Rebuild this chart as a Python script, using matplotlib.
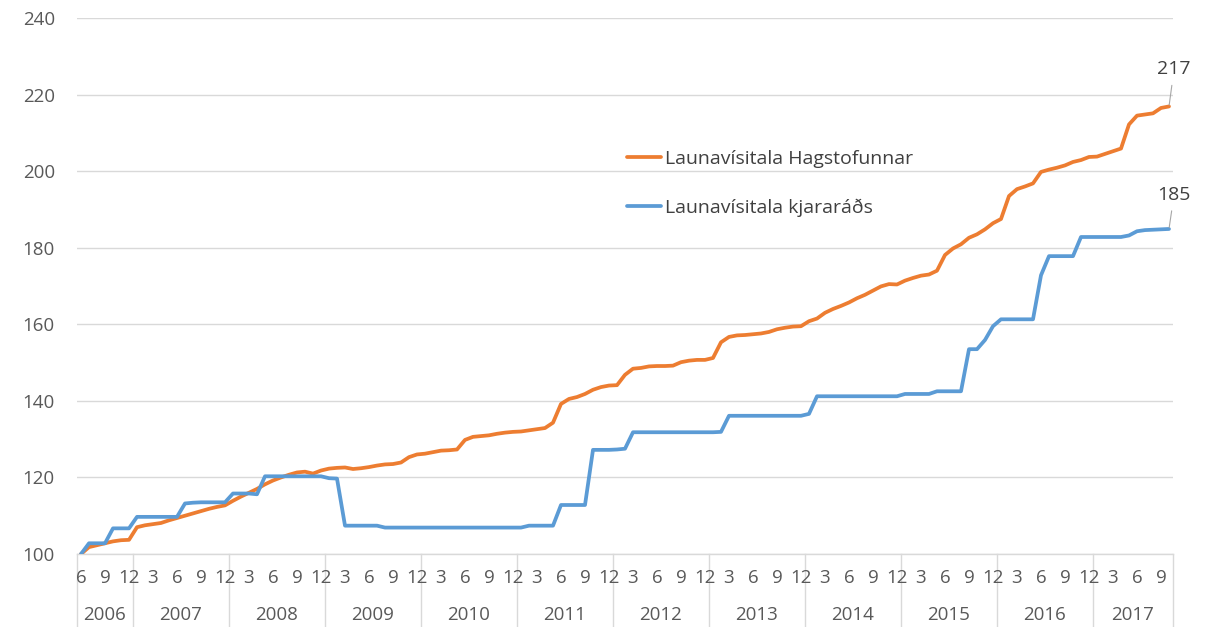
import matplotlib
matplotlib.use("Agg")
import matplotlib.pyplot as plt
import matplotlib.transforms as mtransforms
import numpy as np

plt.rcParams['font.family'] = ['Open Sans', 'DejaVu Sans']

# ---- Data: monthly, June 2006 .. October 2017 ----
start_year, start_month = 2006, 6
n_months = 137

hagstofa = [
    # 2006 (Jun-Dec)
    100.0, 101.8, 102.3, 102.8, 103.3, 103.6, 103.7,
    # 2007
    107.0, 107.5, 107.8, 108.1, 108.8, 109.4, 110.0, 110.6, 111.2, 111.8, 112.3, 112.7,
    # 2008
    113.9, 115.0, 116.0, 117.0, 118.2, 119.2, 120.0, 120.7, 121.3, 121.5, 121.0, 121.8,
    # 2009
    122.3, 122.5, 122.6, 122.2, 122.4, 122.7, 123.1, 123.4, 123.5, 123.9, 125.3, 126.0,
    # 2010
    126.2, 126.6, 127.0, 127.1, 127.3, 129.8, 130.6, 130.8, 131.0, 131.4, 131.7, 131.9,
    # 2011
    132.0, 132.3, 132.6, 132.9, 134.3, 139.2, 140.5, 141.0, 141.8, 142.9, 143.6, 144.0,
    # 2012
    144.1, 146.8, 148.4, 148.6, 149.0, 149.1, 149.1, 149.2, 150.1, 150.5, 150.7, 150.7,
    # 2013
    151.2, 155.3, 156.7, 157.1, 157.2, 157.4, 157.6, 158.0, 158.7, 159.1, 159.4, 159.5,
    # 2014
    160.8, 161.5, 163.0, 164.0, 164.8, 165.7, 166.8, 167.7, 168.8, 169.9, 170.5, 170.4,
    # 2015
    171.4, 172.1, 172.7, 173.0, 174.0, 178.1, 179.8, 180.9, 182.6, 183.5, 184.8, 186.4,
    # 2016
    187.5, 193.5, 195.3, 196.0, 196.8, 199.8, 200.4, 200.9, 201.5, 202.4, 202.9, 203.7,
    # 2017 (Jan-Oct)
    203.8, 204.5, 205.2, 205.9, 212.2, 214.5, 214.8, 215.1, 216.5, 216.9,
]

kjararad = [
    # 2006
    100.0, 102.8, 102.8, 102.8, 106.7, 106.7, 106.7,
    # 2007
    109.7, 109.7, 109.7, 109.7, 109.7, 109.7, 113.2, 113.4, 113.5, 113.5, 113.5, 113.5,
    # 2008
    115.8, 115.8, 115.8, 115.6, 120.3, 120.3, 120.3, 120.3, 120.3, 120.3, 120.3, 120.3,
    # 2009
    119.8, 119.7, 107.4, 107.4, 107.4, 107.4, 107.4, 106.9, 106.9, 106.9, 106.9, 106.9,
    # 2010
    106.9, 106.9, 106.9, 106.9, 106.9, 106.9, 106.9, 106.9, 106.9, 106.9, 106.9, 106.9,
    # 2011
    106.9, 107.4, 107.4, 107.4, 107.4, 112.8, 112.8, 112.8, 112.8, 127.2, 127.2, 127.2,
    # 2012
    127.3, 127.5, 131.8, 131.8, 131.8, 131.8, 131.8, 131.8, 131.8, 131.8, 131.8, 131.8,
    # 2013
    131.8, 131.9, 136.1, 136.1, 136.1, 136.1, 136.1, 136.1, 136.1, 136.1, 136.1, 136.1,
    # 2014
    136.6, 141.2, 141.2, 141.2, 141.2, 141.2, 141.2, 141.2, 141.2, 141.2, 141.2, 141.2,
    # 2015
    141.8, 141.8, 141.8, 141.8, 142.5, 142.5, 142.5, 142.5, 153.5, 153.5, 155.9, 159.5,
    # 2016
    161.3, 161.3, 161.3, 161.3, 161.3, 172.8, 177.8, 177.8, 177.8, 177.8, 182.8, 182.8,
    # 2017
    182.8, 182.8, 182.8, 182.8, 183.2, 184.3, 184.6, 184.7, 184.8, 184.9,
]

series_names = ["Launavísitala Hagstofunnar", "Launavísitala kjararáðs"]
end_labels = ["217", "185"]
year_labels = [str(y) for y in range(2006, 2018)]
tick_months = [3, 6, 9, 12]
y_ticks = [100, 120, 140, 160, 180, 200, 220, 240]

# month / year of each category
months, years = [], []
m, y = start_month, start_year
for _ in range(n_months):
    months.append(m)
    years.append(y)
    m += 1
    if m > 12:
        m, y = 1, y + 1

ORANGE = "#ED7D31"
BLUE = "#5B9BD5"
GRID = "#D9D9D9"
TXT = "#595959"
FS = 13.5

fig = plt.figure(figsize=(12.15, 6.27), dpi=100)
ax = fig.add_axes([77 / 1215, 1 - 554 / 627, (1173 - 77) / 1215, (554 - 18) / 627])

x = np.arange(n_months)
l1, = ax.plot(x, hagstofa, color=ORANGE, lw=2.7, solid_joinstyle='round',
              solid_capstyle='round', label=series_names[0], zorder=3)
l2, = ax.plot(x, kjararad, color=BLUE, lw=2.7, solid_joinstyle='round',
              solid_capstyle='round', label=series_names[1], zorder=3)

ax.set_xlim(-0.5, n_months - 0.5)
ax.set_ylim(100, 240)
ax.set_yticks(y_ticks)
ax.yaxis.grid(True, color=GRID, lw=1.0)
ax.set_axisbelow(True)
for s in ["left", "right", "top"]:
    ax.spines[s].set_visible(False)
ax.spines["bottom"].set_color(GRID)
ax.spines["bottom"].set_linewidth(1.0)
ax.tick_params(axis='y', length=0, pad=16, labelsize=FS, labelcolor=TXT)
ax.set_xticks([])

# multi-level category axis
trans = mtransforms.blended_transform_factory(ax.transData, ax.transAxes)
ax_h = 554 - 18
for i in range(n_months):
    if months[i] in tick_months:
        ax.text(x[i], -24 / ax_h, str(months[i]), transform=trans, ha='center',
                va='center', fontsize=FS, color=TXT, clip_on=False)
boundaries = [-0.5]
for i in range(1, n_months):
    if years[i] != years[i - 1]:
        boundaries.append(i - 0.5)
boundaries.append(n_months - 0.5)
for b in boundaries:
    ax.plot([b, b], [0, -75 / ax_h], transform=trans, color=GRID, lw=1.0, clip_on=False)
for k, lab in enumerate(year_labels):
    cx = (boundaries[k] + boundaries[k + 1]) / 2
    ax.text(cx, -61 / ax_h, lab, transform=trans, ha='center', va='center',
            fontsize=FS, color=TXT, clip_on=False)

# end labels with leader lines
for vals, lab, off in [(hagstofa, end_labels[0], (5, 37)), (kjararad, end_labels[1], (5, 34))]:
    ax.annotate(lab, xy=(x[-1], vals[-1]), xytext=off, textcoords='offset pixels',
                ha='center', va='center', fontsize=14, color="#404040",
                arrowprops=dict(arrowstyle='-', color="#A6A6A6", lw=0.8,
                                shrinkA=3, shrinkB=1),
                annotation_clip=False)

leg = ax.legend(handles=[l1, l2], loc='upper left', frameon=False,
                bbox_to_anchor=(627 / 1215, 1 - 150 / 627), bbox_transform=fig.transFigure,
                borderpad=0, borderaxespad=0, handlelength=1.75, handletextpad=0.2,
                labelspacing=1.55, fontsize=14)
for t in leg.get_texts():
    t.set_color("#404040")

fig.savefig("out.png", dpi=100)
